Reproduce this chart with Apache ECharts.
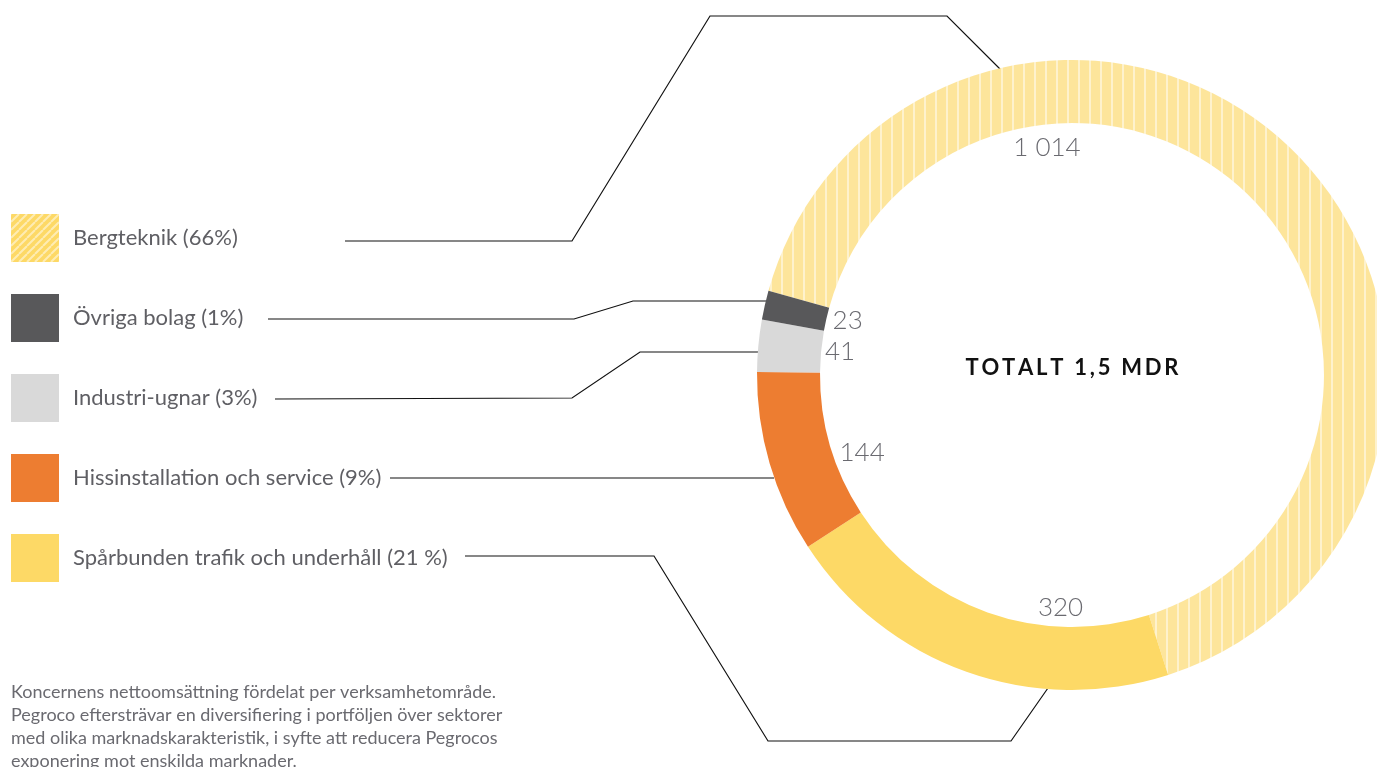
<!DOCTYPE html>
<html lang="sv">
<head>
    <meta charset="UTF-8">
    <title>Nettoomsättning per verksamhetsområde</title>
    <script src="https://cdn.jsdelivr.net/npm/echarts@6/dist/echarts.min.js"></script>
    <style>
        html, body { margin: 0; padding: 0; background: #fff; }
        #chart { width: 1377px; height: 767px; }
    </style>
</head>
<body>
<div id="chart"></div>
<script>
    // data, in ring order (clockwise from Bergteknik)
    var names = ['Bergteknik (66%)', 'Spårbunden trafik och underhåll (21 %)', 'Hissinstallation och service (9%)',
        'Industri-ugnar (3%)', 'Övriga bolag (1%)'];
    var values = [1014, 320, 144, 41, 23];
    var valueLabels = ['1 014', '320', '144', '41', '23'];
    var colors = ['#FDE59B', '#FDD966', '#ED7D31', '#D9D9D9', '#58585A'];
    // legend order from top to bottom
    var legendOrder = [0, 4, 3, 2, 1];
    // nudges so the numbers sit where the original has them
    var labelNudge = [[-183, -63], [65, 18], [9, 14], [-5, -2], [-2, -4]];

    // striped fills for Bergteknik
    function stripes(base, size, diagonal) {
        var c = document.createElement('canvas');
        c.width = size;
        c.height = size;
        var ctx = c.getContext('2d');
        ctx.fillStyle = base;
        ctx.fillRect(0, 0, size, size);
        ctx.strokeStyle = 'rgba(255,255,255,0.5)';
        ctx.lineWidth = 2;
        ctx.beginPath();
        if (diagonal) {
            for (var k = -1; k <= 1; k++) {
                ctx.moveTo(k * size, size);
                ctx.lineTo(k * size + size, 0);
            }
        } else {
            ctx.moveTo(1, 0);
            ctx.lineTo(1, size);
        }
        ctx.stroke();
        return { image: c, repeat: 'repeat' };
    }

    var ringData = [];
    var labelData = [];
    for (var i = 0; i < names.length; i++) {
        var fill = i === 0 ? stripes(colors[0], 11, false) : colors[i];
        ringData.push({ name: names[i], value: values[i], itemStyle: { color: fill } });
        labelData.push({
            name: names[i] + ' ',
            value: values[i],
            label: { formatter: valueLabels[i], offset: labelNudge[i] }
        });
    }

    var legendData = legendOrder.map(function (k) {
        var item = { name: names[k] };
        if (k === 0) item.itemStyle = { color: stripes('#FDD966', 8, true) };
        return item;
    });

    // leader lines from legend rows to the ring
    var leaders = [
        [[345, 241], [572, 241], [710, 16], [947, 16], [1000, 69]],
        [[268, 319], [574, 319], [633, 301], [766, 301]],
        [[275, 399], [572, 398], [640, 352], [758, 352]],
        [[390, 478], [774, 478]],
        [[465, 556], [654, 556], [768, 741], [1011, 741], [1048, 688]]
    ];

    var totalText = ['TOTALT', '1,5', 'MDR'].map(function (w) {
        return w.split('').join('\u2009');
    }).join('\u2009 \u2009');

    var option = {
        backgroundColor: '#ffffff',
        animation: false,
        legend: {
            orient: 'vertical',
            left: 11,
            top: 214,
            padding: 0,
            itemWidth: 48,
            itemHeight: 48,
            itemGap: 32,
            selectedMode: false,
            icon: 'rect',
            textStyle: { fontFamily: 'Lato', fontSize: 22, color: '#5f5f64', padding: [0, 0, 0, 9] },
            data: legendData
        },
        graphic: leaders.map(function (pts) {
            return {
                type: 'polyline',
                silent: true,
                shape: { points: pts },
                style: { stroke: '#111', lineWidth: 1.2, fill: null }
            };
        }).concat([
            {
                type: 'text',
                left: 11,
                top: 681,
                style: {
                    text: 'Koncernens nettoomsättning fördelat per verksamhetområde.\n' +
                        'Pegroco eftersträvar en diversifiering i portföljen över sektorer\n' +
                        'med olika marknadskarakteristik, i syfte att reducera Pegrocos\n' +
                        'exponering mot enskilda marknader.',
                    font: '18px Lato',
                    fill: '#6a6a70',
                    lineHeight: 23
                }
            },
            {
                type: 'text',
                x: 1072,
                y: 368,
                style: {
                    text: totalText,
                    font: 'bold 22px Lato',
                    fill: '#111',
                    align: 'center',
                    verticalAlign: 'middle'
                }
            }
        ]),
        series: [
            {
                type: 'pie',
                center: [1072, 375],
                radius: [252, 315],
                startAngle: 164.5,
                clockwise: true,
                silent: true,
                label: { show: false },
                labelLine: { show: false },
                itemStyle: { borderWidth: 0 },
                data: ringData
            },
            {
                type: 'pie',
                center: [1072, 375],
                radius: [200, 250],
                startAngle: 164.5,
                clockwise: true,
                silent: true,
                itemStyle: { color: 'rgba(0,0,0,0)' },
                label: {
                    show: true,
                    position: 'inside',
                    fontFamily: 'Lato',
                    fontWeight: 300,
                    fontSize: 26,
                    color: '#6a6a70'
                },
                labelLine: { show: false },
                data: labelData
            }
        ]
    };

    var myChart = echarts.init(document.getElementById('chart'));
    myChart.setOption(option);
</script>
</body>
</html>
